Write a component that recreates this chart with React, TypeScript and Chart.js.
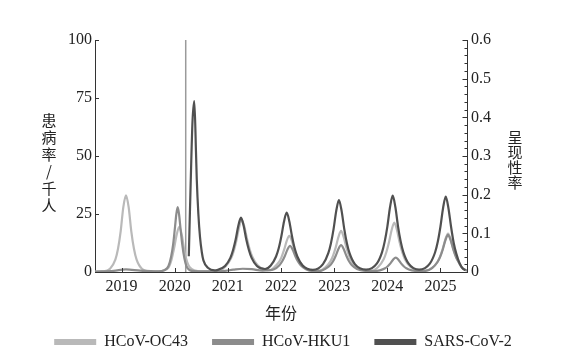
import { useEffect, useRef } from "react";
import { Chart, registerables } from "chart.js";

Chart.register(...registerables);

const seriesNames = ["HCoV-OC43", "HCoV-HKU1", "SARS-CoV-2"];

const oc43Years = [
  2018.5, 2018.65, 2018.783, 2018.883, 2018.933, 2018.983, 2019.033, 2019.083, 2019.133, 2019.183, 2019.233, 2019.283, 2019.383, 2019.55,
  2019.75, 2019.786, 2019.886, 2019.936, 2019.986, 2020.036, 2020.086, 2020.136, 2020.186, 2020.236, 2020.286, 2020.386, 2020.5,
  2020.8, 2020.96, 2021.06, 2021.11, 2021.16, 2021.21, 2021.26, 2021.31, 2021.36, 2021.41, 2021.46, 2021.56, 2021.7,
  2021.8, 2021.856, 2021.956, 2022.006, 2022.056, 2022.106, 2022.156, 2022.206, 2022.256, 2022.306, 2022.356, 2022.456, 2022.6,
  2022.72, 2022.83, 2022.93, 2022.98, 2023.03, 2023.08, 2023.13, 2023.18, 2023.23, 2023.28, 2023.33, 2023.43, 2023.58,
  2023.72, 2023.832, 2023.932, 2023.982, 2024.032, 2024.082, 2024.132, 2024.182, 2024.232, 2024.282, 2024.332, 2024.432, 2024.58,
  2024.72, 2024.843, 2024.943, 2024.993, 2025.043, 2025.093, 2025.143, 2025.193, 2025.243, 2025.293, 2025.343, 2025.4, 2025.5,
];
const oc43Values = [
  0.2, 0.3, 1.4, 5.3, 10.0, 17.5, 28.0, 33, 28.0, 17.5, 10.0, 5.3, 1.4, 0.3,
  0.4, 0.6, 2.0, 5.0, 10.0, 16.0, 19.5, 15.6, 8.5, 4.2, 2.0, 0.6, 0.3,
  0.3, 2.5, 5.9, 9.0, 13.5, 19.1, 22.5, 19.6, 14.3, 9.8, 6.6, 2.9, 1.0,
  0.8, 1.7, 4.1, 6.2, 9.4, 13.3, 15.6, 13.3, 9.4, 6.2, 4.1, 1.7, 0.6,
  0.6, 1.9, 4.6, 7.1, 10.6, 15.0, 17.7, 15.0, 10.6, 7.1, 4.6, 1.9, 0.7,
  0.7, 2.3, 5.5, 8.5, 12.8, 18.1, 21.3, 18.1, 12.8, 8.5, 5.5, 2.3, 0.8,
  0.6, 1.8, 4.3, 6.6, 10.0, 14.1, 16.6, 14.1, 10.0, 6.6, 4.3, 2.0, 0.6,
];

const hku1Years = [
  2018.5, 2018.85, 2019.08, 2019.35, 2019.7,
  2019.806, 2019.881, 2019.931, 2019.971, 2020.006, 2020.031, 2020.056, 2020.081, 2020.106, 2020.141, 2020.181, 2020.221, 2020.301, 2020.45,
  2020.9, 2021.1, 2021.28, 2021.45, 2021.65,
  2021.87, 2021.97, 2022.02, 2022.07, 2022.12, 2022.17, 2022.22, 2022.27, 2022.32, 2022.37, 2022.47, 2022.62,
  2022.75, 2022.83, 2022.93, 2022.98, 2023.03, 2023.08, 2023.13, 2023.18, 2023.23, 2023.28, 2023.33, 2023.43, 2023.6,
  2023.75, 2023.859, 2023.959, 2024.009, 2024.059, 2024.109, 2024.159, 2024.209, 2024.259, 2024.309, 2024.359, 2024.459, 2024.6,
  2024.72, 2024.843, 2024.943, 2024.993, 2025.043, 2025.093, 2025.143, 2025.193, 2025.243, 2025.293, 2025.343, 2025.4, 2025.5,
];
const hku1Values = [
  0.2, 0.5, 1.1, 0.6, 0.3,
  0.8, 2.5, 6.5, 12, 19.5, 25, 28, 25, 19.5, 12, 6, 2.5, 0.6, 0.3,
  0.4, 1.0, 1.4, 1.2, 0.6,
  1.2, 2.9, 4.5, 6.8, 9.6, 11.3, 9.6, 6.8, 4.5, 2.9, 1.2, 0.4,
  0.5, 1.3, 3.0, 4.6, 7.0, 9.9, 11.6, 9.9, 7.0, 4.6, 3.0, 1.3, 0.5,
  0.4, 0.7, 1.6, 2.5, 3.7, 5.3, 6.2, 5.3, 3.7, 2.5, 1.6, 0.7, 0.4,
  0.5, 1.7, 4.2, 6.4, 9.6, 13.6, 16, 13.6, 9.6, 6.4, 4.2, 2.0, 0.5,
];

const sarsYears = [
  2020.265, 2020.3, 2020.335, 2020.369, 2020.4, 2020.415, 2020.445, 2020.476, 2020.51, 2020.54, 2020.63, 2020.75,
  2020.797, 2020.947, 2021.047, 2021.097, 2021.147, 2021.197, 2021.247, 2021.297, 2021.347, 2021.397, 2021.447, 2021.547, 2021.7,
  2021.807, 2021.907, 2021.957, 2022.007, 2022.057, 2022.107, 2022.157, 2022.207, 2022.257, 2022.307, 2022.407, 2022.6,
  2022.79, 2022.89, 2022.94, 2022.99, 2023.04, 2023.09, 2023.14, 2023.19, 2023.24, 2023.29, 2023.39, 2023.6,
  2023.802, 2023.902, 2023.952, 2024.002, 2024.052, 2024.102, 2024.152, 2024.202, 2024.252, 2024.302, 2024.402, 2024.6,
  2024.8, 2024.9, 2024.95, 2025.0, 2025.05, 2025.1, 2025.15, 2025.2, 2025.25, 2025.3, 2025.36, 2025.42, 2025.47,
];
const sarsValues = [
  6.8, 38, 65, 73.7, 52, 40, 25, 15, 8.5, 5, 1.7, 0.7,
  0.8, 2.6, 6.1, 9.4, 14.0, 19.9, 23.4, 19.9, 14.0, 9.4, 6.1, 2.6, 1.3,
  2.8, 6.7, 10.2, 15.4, 21.8, 25.6, 21.8, 15.4, 10.2, 6.7, 2.8, 0.9,
  3.4, 8.1, 12.4, 18.6, 26.4, 31, 26.4, 18.6, 12.4, 8.1, 3.4, 1.0,
  3.6, 8.6, 13.2, 19.7, 28.0, 32.9, 28.0, 19.7, 13.2, 8.6, 3.6, 1.0,
  3.6, 8.5, 13.0, 19.5, 27.6, 32.5, 27.6, 19.5, 12.5, 7.8, 3.8, 1.5, 0.8,
];

const markerYears = [2020.207, 2020.207];
const markerValues = [0, 100];

const yearTicks = [2019, 2020, 2021, 2022, 2023, 2024, 2025];
const leftTicks = [0, 25, 50, 75, 100];
const rightTicks = [0, 0.1, 0.2, 0.3, 0.4, 0.5, 0.6];
const rightMinorStep = 0.02;

const xTitle = "年份";
const leftTitle = "患病率/千人";
const rightTitle = "呈现性率";

const colors = ["#b9b9b9", "#8c8c8c", "#505050"];
const markerColor = "#9a9a9a";

const serif = '"Liberation Serif", "Times New Roman", serif';
const cjk = '"Noto Sans CJK SC", sans-serif';

const toPoints = (xs: number[], ys: number[]) => xs.map((x, i) => ({ x, y: ys[i] }));

const axisDecor = {
  id: "axisDecor",
  afterDraw(chart: any) {
    const { ctx, chartArea, scales } = chart;
    const { left, right, bottom } = chartArea;
    ctx.save();
    ctx.strokeStyle = "#333";
    ctx.lineWidth = 1;
    ctx.beginPath();
    for (const v of yearTicks) {
      const px = Math.round(scales.x.getPixelForValue(v)) + 0.5;
      ctx.moveTo(px, bottom);
      ctx.lineTo(px, bottom - 4);
    }
    for (const v of leftTicks) {
      const py = Math.round(scales.y.getPixelForValue(v)) + 0.5;
      ctx.moveTo(left, py);
      ctx.lineTo(left + 4, py);
    }
    const maxR = rightTicks[rightTicks.length - 1];
    const n = Math.round(maxR / rightMinorStep);
    for (let i = 0; i <= n; i++) {
      const v = i * rightMinorStep;
      const py = Math.round(scales.y2.getPixelForValue(v)) + 0.5;
      const len = i % 5 === 0 ? 4.5 : 2.5;
      ctx.moveTo(right, py);
      ctx.lineTo(right - len, py);
    }
    ctx.stroke();

    ctx.fillStyle = "#222";
    ctx.font = "15px " + cjk;
    ctx.textAlign = "center";
    ctx.textBaseline = "middle";
    Array.from(leftTitle).forEach((c, i) => ctx.fillText(c, 49, 120 + i * 17));
    Array.from(rightTitle).forEach((c, i) => ctx.fillText(c, 515, 137.5 + i * 15));
    ctx.restore();
  },
};

export default function App() {
  const ref = useRef<HTMLCanvasElement>(null);

  useEffect(() => {
    if (!ref.current) return;
    const lineCommon = {
      pointRadius: 0,
      borderWidth: 2.2,
      cubicInterpolationMode: "monotone" as const,
      fill: false,
      yAxisID: "y",
    };
    const chart = new Chart(ref.current, {
      type: "line",
      data: {
        datasets: [
          { ...lineCommon, label: seriesNames[0], data: toPoints(oc43Years, oc43Values), borderColor: colors[0], backgroundColor: colors[0], order: 2 },
          { ...lineCommon, label: seriesNames[1], data: toPoints(hku1Years, hku1Values), borderColor: colors[1], backgroundColor: colors[1], order: 1 },
          { ...lineCommon, label: seriesNames[2], data: toPoints(sarsYears, sarsValues), borderColor: colors[2], backgroundColor: colors[2], order: 0 },
          {
            label: "marker",
            data: toPoints(markerYears, markerValues),
            borderColor: markerColor,
            backgroundColor: markerColor,
            borderWidth: 1.5,
            pointRadius: 0,
            tension: 0,
            yAxisID: "y",
            order: 3,
          },
        ],
      },
      options: {
        animation: false,
        responsive: false,
        maintainAspectRatio: false,
        layout: { padding: { left: 0, right: 0, top: 40, bottom: 0 } },
        plugins: {
          tooltip: { enabled: false },
          legend: {
            position: "bottom",
            maxHeight: 44,
            labels: {
              boxWidth: 42,
              boxHeight: 6,
              padding: 24,
              color: "#222",
              font: { family: serif, size: 16 },
              filter: (item: any) => item.datasetIndex < 3,
              sort: (a: any, b: any) => a.datasetIndex - b.datasetIndex,
              generateLabels: (c: any) =>
                (Chart.defaults.plugins.legend.labels.generateLabels as any)(c).map((l: any) => ({ ...l, lineWidth: 0 })),
            },
          },
        },
        scales: {
          x: {
            type: "linear",
            min: 2018.5,
            max: 2025.5,
            afterFit: (s: any) => { s.height = 38; },
            afterBuildTicks: (s: any) => { s.ticks = yearTicks.map((v) => ({ value: v })); },
            grid: { display: false, drawTicks: false },
            border: { display: true, color: "#333", width: 1 },
            ticks: {
              padding: 5,
              color: "#222",
              font: { family: serif, size: 16 },
              maxRotation: 0,
              autoSkip: false,
              callback: (v: any) => String(v),
            },
            title: {
              display: true,
              text: xTitle,
              color: "#222",
              font: { family: cjk, size: 16 },
              padding: { top: 0, bottom: -13 },
            },
          },
          y: {
            type: "linear",
            position: "left",
            min: 0,
            max: 100,
            afterFit: (s: any) => { s.width = 95; },
            afterBuildTicks: (s: any) => { s.ticks = leftTicks.map((v) => ({ value: v })); },
            grid: { display: false, drawTicks: false },
            border: { display: true, color: "#333", width: 1 },
            ticks: { padding: 3, color: "#222", font: { family: serif, size: 16 }, callback: (v: any) => String(v) },
          },
          y2: {
            type: "linear",
            position: "right",
            min: 0,
            max: 0.6,
            afterFit: (s: any) => { s.width = 99; },
            afterBuildTicks: (s: any) => { s.ticks = rightTicks.map((v) => ({ value: v })); },
            grid: { display: false, drawTicks: false },
            border: { display: true, color: "#333", width: 1 },
            ticks: { padding: 4, color: "#222", font: { family: serif, size: 16 }, callback: (v: any) => String(v) },
          },
        },
      },
      plugins: [axisDecor],
    });
    return () => chart.destroy();
  }, []);

  return (
    <div style={{ position: "fixed", left: 0, top: 0, width: 566, height: 354, background: "#fff" }}>
      <canvas ref={ref} width={566} height={354} style={{ width: 566, height: 354 }} />
    </div>
  );
}
